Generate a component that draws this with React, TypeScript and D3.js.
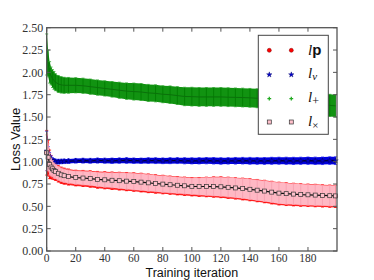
import * as d3 from 'd3';

// training iterations at which the curves were read
const iters = [0, 1, 2, 3, 4, 5, 6, 8, 10, 12, 15, 20, 25, 30, 35, 40, 45, 50, 55, 60, 65, 70, 75, 80, 85, 90, 95,
  100, 105, 110, 115, 120, 125, 130, 135, 140, 145, 150, 155, 160, 165, 170, 175, 180, 185, 190, 195, 199];

// l_p (red circles)
const lpMean = [1.10, 1.04, 0.97, 0.94, 0.915, 0.9, 0.885, 0.865, 0.848, 0.838, 0.828, 0.817, 0.812, 0.806, 0.797, 0.792,
  0.787, 0.782, 0.777, 0.772, 0.766, 0.758, 0.751, 0.744, 0.737, 0.731, 0.725, 0.719, 0.717, 0.717, 0.716, 0.714, 0.708,
  0.701, 0.694, 0.686, 0.676, 0.666, 0.654, 0.643, 0.637, 0.632, 0.627, 0.624, 0.621, 0.617, 0.614, 0.612];
const lpErr = [0.25, 0.2, 0.16, 0.13, 0.11, 0.1, 0.095, 0.093, 0.091, 0.09, 0.09, 0.088, 0.09, 0.092, 0.094, 0.096, 0.098,
  0.1, 0.102, 0.104, 0.105, 0.105, 0.104, 0.104, 0.103, 0.103, 0.103, 0.103, 0.106, 0.11, 0.114, 0.117, 0.119, 0.12,
  0.122, 0.124, 0.125, 0.126, 0.127, 0.128, 0.128, 0.127, 0.127, 0.126, 0.126, 0.125, 0.125, 0.125];

// l_v (blue stars)
const lvMean = [1.12, 1.07, 1.04, 1.02, 1.01, 1.005, 1.0, 1.0, 1.002, 1.004, 1.006, 1.01, 1.011, 1.01, 1.012, 1.011, 1.01,
  1.012, 1.013, 1.011, 1.01, 1.012, 1.011, 1.01, 1.011, 1.012, 1.01, 1.009, 1.01, 1.011, 1.01, 1.008, 1.009, 1.01, 1.011,
  1.01, 1.009, 1.008, 1.01, 1.011, 1.01, 1.009, 1.01, 1.011, 1.01, 1.01, 1.012, 1.011];
const lvErr = [0.22, 0.1, 0.06, 0.045, 0.035, 0.03, 0.028, 0.026, 0.025, 0.025, 0.025, 0.026, 0.027, 0.027, 0.028, 0.028,
  0.03, 0.03, 0.031, 0.03, 0.03, 0.031, 0.032, 0.032, 0.033, 0.033, 0.034, 0.034, 0.035, 0.035, 0.036, 0.036, 0.036,
  0.037, 0.037, 0.038, 0.038, 0.038, 0.039, 0.039, 0.04, 0.04, 0.04, 0.041, 0.041, 0.042, 0.042, 0.043];

// l_+ (green plus)
const lplusMean = [2.2, 2.1, 2.0, 1.96, 1.93, 1.91, 1.89, 1.87, 1.86, 1.855, 1.855, 1.855, 1.85, 1.84, 1.83, 1.82, 1.81,
  1.8, 1.79, 1.785, 1.78, 1.77, 1.765, 1.755, 1.75, 1.74, 1.73, 1.728, 1.725, 1.725, 1.725, 1.725, 1.722, 1.72, 1.718,
  1.715, 1.71, 1.7, 1.69, 1.68, 1.67, 1.66, 1.65, 1.645, 1.64, 1.635, 1.63, 1.625];
const lplusErr = [0.23, 0.15, 0.12, 0.1, 0.1, 0.1, 0.095, 0.095, 0.092, 0.09, 0.088, 0.085, 0.085, 0.085, 0.085, 0.085,
  0.087, 0.09, 0.092, 0.095, 0.095, 0.095, 0.095, 0.095, 0.098, 0.1, 0.103, 0.105, 0.105, 0.105, 0.105, 0.105, 0.105,
  0.105, 0.105, 0.105, 0.106, 0.107, 0.108, 0.11, 0.112, 0.114, 0.116, 0.118, 0.12, 0.122, 0.124, 0.125];

// l_x (pink squares)
const lxMean = [1.10, 1.05, 0.97, 0.94, 0.92, 0.9, 0.89, 0.87, 0.853, 0.843, 0.833, 0.822, 0.817, 0.811, 0.802, 0.797,
  0.792, 0.787, 0.782, 0.777, 0.771, 0.763, 0.756, 0.749, 0.742, 0.736, 0.73, 0.724, 0.722, 0.722, 0.721, 0.719, 0.713,
  0.706, 0.699, 0.691, 0.681, 0.671, 0.659, 0.648, 0.642, 0.637, 0.632, 0.629, 0.626, 0.622, 0.619, 0.617];
const lxErr = [0.2, 0.15, 0.12, 0.1, 0.09, 0.085, 0.08, 0.078, 0.076, 0.075, 0.075, 0.075, 0.077, 0.079, 0.081, 0.083,
  0.085, 0.088, 0.09, 0.093, 0.094, 0.094, 0.093, 0.093, 0.092, 0.092, 0.092, 0.092, 0.095, 0.1, 0.104, 0.107, 0.109,
  0.11, 0.112, 0.114, 0.115, 0.116, 0.117, 0.118, 0.118, 0.117, 0.117, 0.116, 0.116, 0.115, 0.115, 0.115];

const xTicks = [0, 20, 40, 60, 80, 100, 120, 140, 160, 180];
const yTicks = [0, 0.25, 0.5, 0.75, 1.0, 1.25, 1.5, 1.75, 2.0, 2.25, 2.5];

const W = 374;
const H = 280;
const margin = { top: 27.7, right: 37, bottom: 29, left: 46.7 };

type Pt = { x: number; m: number; e: number };
const zipSeries = (mean: number[], err: number[]): Pt[] => iters.map((x, i) => ({ x, m: mean[i], e: err[i] }));

export default function App() {
  const x = d3.scaleLinear().domain([0, 200]).range([margin.left, W - margin.right]);
  const y = d3.scaleLinear().domain([0, 2.5]).range([H - margin.bottom, margin.top]);

  const band = d3.area<Pt>().x(d => x(d.x)).y0(d => y(d.m - d.e)).y1(d => y(d.m + d.e));
  const line = d3.line<Pt>().x(d => x(d.x)).y(d => y(d.m));

  const lp = zipSeries(lpMean, lpErr);
  const lv = zipSeries(lvMean, lvErr);
  const lplus = zipSeries(lplusMean, lplusErr);
  const lx = zipSeries(lxMean, lxErr);

  const errBars = (data: Pt[], fill: string, bar: string, cap: string) => (
    <g>
      <path d={band(data) ?? ''} fill={fill} />
      {data.map((d, i) => (
        <g key={i}>
          <line x1={x(d.x)} x2={x(d.x)} y1={y(d.m - d.e)} y2={y(d.m + d.e)} stroke={bar} strokeWidth={0.8} />
          <line x1={x(d.x) - 1.5} x2={x(d.x) + 1.5} y1={y(d.m - d.e)} y2={y(d.m - d.e)} stroke={cap} strokeWidth={0.8} />
          <line x1={x(d.x) - 1.5} x2={x(d.x) + 1.5} y1={y(d.m + d.e)} y2={y(d.m + d.e)} stroke={cap} strokeWidth={0.8} />
        </g>
      ))}
    </g>
  );

  const star = d3.symbol(d3.symbolStar, 9)() ?? '';
  const plus = d3.symbol(d3.symbolCross, 8)() ?? '';

  const legendRows = [
    { y: 50.3, kind: 'circle' },
    { y: 74.7, kind: 'star' },
    { y: 98.7, kind: 'plus' },
    { y: 122, kind: 'square' },
  ];
  const marker = (kind: string, cx: number, cy: number, key: string | number) => {
    if (kind === 'circle') return <circle key={key} cx={cx} cy={cy} r={2} fill="#ff0000" stroke="#800000" strokeWidth={0.5} />;
    if (kind === 'star') return <path key={key} d={star} transform={`translate(${cx},${cy})`} fill="#0000cc" stroke="#000066" strokeWidth={0.4} />;
    if (kind === 'plus') return <path key={key} d={plus} transform={`translate(${cx},${cy})`} fill="#22aa22" />;
    return <rect key={key} x={cx - 2} y={cy - 2} width={4} height={4} fill="#ffc0cb" stroke="#333" strokeWidth={0.7} />;
  };

  const axisColor = '#555';
  const serif = '"Liberation Serif", "DejaVu Serif", serif';
  const sans = '"Liberation Sans", Arial, sans-serif';
  const x0 = margin.left, x1 = W - margin.right, y0 = H - margin.bottom, y1 = margin.top;

  return (
    <svg width={W} height={H} style={{ position: 'absolute', left: 0, top: 0, background: '#fff' }}>
      {/* l_p */}
      {errBars(lp, '#ff2020', '#ee0000', '#ff0000')}
      {lp.map((d, i) => marker('circle', x(d.x), y(d.m), 'p' + i))}
      {/* l_v */}
      {errBars(lv, '#0000dd', '#0000aa', '#2222ff')}
      <path d={line(lv) ?? ''} fill="none" stroke="#000033" strokeWidth={1.3} />
      {lv.map((d, i) => marker('star', x(d.x), y(d.m), 'v' + i))}
      {/* l_+ */}
      {errBars(lplus, '#119311', '#007a00', '#33aa33')}
      <path d={line(lplus) ?? ''} fill="none" stroke="#0a700a" strokeWidth={1} />
      {/* l_x */}
      {errBars(lx, '#ffb8c4', '#f5a0b0', '#ff9aa8')}
      <path d={line(lx) ?? ''} fill="none" stroke="#111" strokeWidth={1.2} />
      {lx.map((d, i) => marker('square', x(d.x), y(d.m), 'x' + i))}

      {/* spines */}
      <rect x={x0} y={y1} width={x1 - x0} height={y0 - y1} fill="none" stroke={axisColor} strokeWidth={1.3} />
      {xTicks.map(t => (
        <g key={'xt' + t}>
          <line x1={x(t)} x2={x(t)} y1={y0} y2={y0 - 4} stroke={axisColor} />
          <line x1={x(t)} x2={x(t)} y1={y1} y2={y1 + 4} stroke={axisColor} />
          <text x={x(t)} y={y0 + 11} textAnchor="middle" fontFamily={serif} fontSize={11.5} fill="#333">{t}</text>
        </g>
      ))}
      {yTicks.map(t => (
        <g key={'yt' + t}>
          <line x1={x0} x2={x0 + 4} y1={y(t)} y2={y(t)} stroke={axisColor} />
          <line x1={x1} x2={x1 - 4} y1={y(t)} y2={y(t)} stroke={axisColor} />
          <text x={x0 - 3.5} y={y(t)} dy="0.35em" textAnchor="end" fontFamily={serif} fontSize={12} fill="#333">{d3.format('.2f')(t)}</text>
        </g>
      ))}

      <text x={(x0 + x1) / 2} y={277} textAnchor="middle" fontFamily={sans} fontSize={12.5} fill="#111">Training iteration</text>
      <text transform={`translate(20,${(y0 + y1) / 2}) rotate(-90)`} textAnchor="middle" fontFamily={sans} fontSize={13} fill="#111">Loss Value</text>

      {/* legend */}
      <rect x={258.3} y={35.3} width={70} height={99} fill="#fff" stroke="#444" strokeWidth={1} />
      {legendRows.map((r, i) => (
        <g key={'lg' + i}>
          {marker(r.kind, 269.3, r.y, 'a')}
          {marker(r.kind, 291.3, r.y, 'b')}
        </g>
      ))}
      <text x={308} y={55} fontFamily={serif} fontSize={15} fill="#111">
        <tspan fontStyle="italic">l</tspan>
        <tspan fontFamily={sans} fontWeight="bold" fontSize={15}>p</tspan>
      </text>
      <text x={308} y={78} fontFamily={serif} fontSize={15} fill="#111">
        <tspan fontStyle="italic">l</tspan>
        <tspan fontStyle="italic" fontSize={11} dy={2}>v</tspan>
      </text>
      <text x={308} y={102} fontFamily={serif} fontSize={15} fill="#111">
        <tspan fontStyle="italic">l</tspan>
        <tspan fontSize={12} dy={3}>+</tspan>
      </text>
      <text x={308} y={126} fontFamily={serif} fontSize={15} fill="#111">
        <tspan fontStyle="italic">l</tspan>
        <tspan fontSize={11} dy={3}>×</tspan>
      </text>
    </svg>
  );
}
